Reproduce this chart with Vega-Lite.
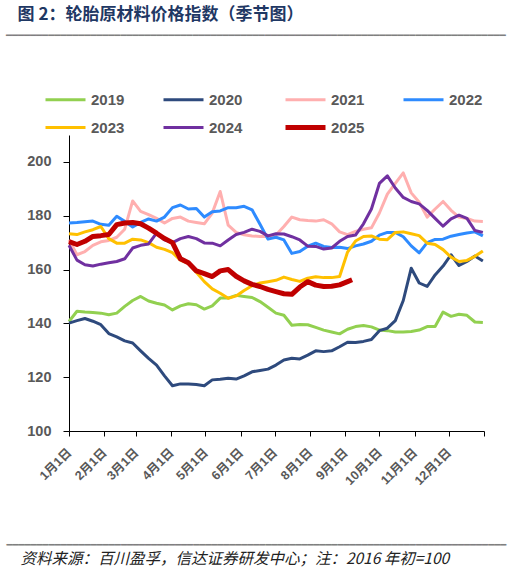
{
  "$schema": "https://vega.github.io/schema/vega-lite/v6.json",
  "width": 415,
  "height": 296,
  "autosize": "none",
  "padding": {"left": 69, "top": 135, "right": 44, "bottom": 142},
  "background": "white",
  "config": {"view": {"stroke": null}, "font": "Liberation Sans"},
  "title": {
    "text": "\u200b\u00a0\u00a0\u00a0图 2：轮胎原材料价格指数（季节图）",
    "subtitle": "▔▔▔▔▔▔▔▔▔▔▔▔▔▔▔▔▔▔▔▔▔▔▔▔▔▔▔▔▔▔▔▔▔▔▔▔▔▔▔▔▔▔▔▔▔▔▔▔▔▔▔▔▔▔▔▔▔▔▔▔▔▔▔▔▔▔▔▔▔▔▔▔▔▔▔▔▔▔▔▔▔▔▔",
    "anchor": "start",
    "frame": "group",
    "dx": -63,
    "offset": 45.5,
    "font": "Noto Sans CJK SC",
    "fontSize": 17,
    "fontWeight": "bold",
    "color": "#1f3864",
    "subtitleFont": "DejaVu Sans Mono",
    "subtitleFontSize": 10,
    "subtitleColor": "#7f7f7f",
    "subtitlePadding": 12
  },
  "data": {"values": [
    {"d":"2025/01/01","s":"2019","v":140.7},{"d":"2025/01/08","s":"2019","v":144.5},{"d":"2025/01/15","s":"2019","v":144.2},{"d":"2025/01/22","s":"2019","v":144},{"d":"2025/01/29","s":"2019","v":143.8},{"d":"2025/02/05","s":"2019","v":143.2},{"d":"2025/02/12","s":"2019","v":143.8},{"d":"2025/02/19","s":"2019","v":146.3},{"d":"2025/02/26","s":"2019","v":148.5},{"d":"2025/03/05","s":"2019","v":150},{"d":"2025/03/12","s":"2019","v":148.3},{"d":"2025/03/19","s":"2019","v":147.5},{"d":"2025/03/26","s":"2019","v":146.8},{"d":"2025/04/02","s":"2019","v":145},{"d":"2025/04/09","s":"2019","v":146.5},{"d":"2025/04/16","s":"2019","v":147.3},{"d":"2025/04/23","s":"2019","v":146.9},{"d":"2025/04/30","s":"2019","v":145.3},{"d":"2025/05/07","s":"2019","v":146.5},{"d":"2025/05/14","s":"2019","v":149.4},{"d":"2025/05/21","s":"2019","v":149.4},{"d":"2025/05/28","s":"2019","v":150.4},{"d":"2025/06/04","s":"2019","v":150},{"d":"2025/06/11","s":"2019","v":149.6},{"d":"2025/06/18","s":"2019","v":148.1},{"d":"2025/06/25","s":"2019","v":146},{"d":"2025/07/02","s":"2019","v":143.8},{"d":"2025/07/09","s":"2019","v":143},{"d":"2025/07/16","s":"2019","v":139.3},{"d":"2025/07/23","s":"2019","v":139.6},{"d":"2025/07/30","s":"2019","v":139.5},{"d":"2025/08/06","s":"2019","v":138.5},{"d":"2025/08/13","s":"2019","v":137.5},{"d":"2025/08/20","s":"2019","v":136.8},{"d":"2025/08/27","s":"2019","v":136.1},{"d":"2025/09/03","s":"2019","v":137.8},{"d":"2025/09/10","s":"2019","v":138.8},{"d":"2025/09/17","s":"2019","v":139.2},{"d":"2025/09/24","s":"2019","v":138.7},{"d":"2025/10/01","s":"2019","v":137.5},{"d":"2025/10/08","s":"2019","v":137.3},{"d":"2025/10/15","s":"2019","v":136.8},{"d":"2025/10/22","s":"2019","v":136.8},{"d":"2025/10/29","s":"2019","v":137},{"d":"2025/11/05","s":"2019","v":137.5},{"d":"2025/11/12","s":"2019","v":138.8},{"d":"2025/11/19","s":"2019","v":138.8},{"d":"2025/11/26","s":"2019","v":144.2},{"d":"2025/12/03","s":"2019","v":142.6},{"d":"2025/12/10","s":"2019","v":143.4},{"d":"2025/12/17","s":"2019","v":143},{"d":"2025/12/24","s":"2019","v":140.5},{"d":"2025/12/31","s":"2019","v":140.3},
    {"d":"2025/01/01","s":"2020","v":140.1},{"d":"2025/01/08","s":"2020","v":141},{"d":"2025/01/15","s":"2020","v":141.8},{"d":"2025/01/22","s":"2020","v":140.8},{"d":"2025/01/29","s":"2020","v":139.5},{"d":"2025/02/05","s":"2020","v":136.2},{"d":"2025/02/12","s":"2020","v":135},{"d":"2025/02/19","s":"2020","v":133.5},{"d":"2025/02/26","s":"2020","v":132.7},{"d":"2025/03/05","s":"2020","v":129.8},{"d":"2025/03/12","s":"2020","v":127},{"d":"2025/03/19","s":"2020","v":124.5},{"d":"2025/03/26","s":"2020","v":120.5},{"d":"2025/04/02","s":"2020","v":116.8},{"d":"2025/04/09","s":"2020","v":117.5},{"d":"2025/04/16","s":"2020","v":117.5},{"d":"2025/04/23","s":"2020","v":117.3},{"d":"2025/04/30","s":"2020","v":116.8},{"d":"2025/05/07","s":"2020","v":119},{"d":"2025/05/14","s":"2020","v":119.2},{"d":"2025/05/21","s":"2020","v":119.6},{"d":"2025/05/28","s":"2020","v":119.3},{"d":"2025/06/04","s":"2020","v":120.5},{"d":"2025/06/11","s":"2020","v":122},{"d":"2025/06/18","s":"2020","v":122.5},{"d":"2025/06/25","s":"2020","v":123},{"d":"2025/07/02","s":"2020","v":124.5},{"d":"2025/07/09","s":"2020","v":126.4},{"d":"2025/07/16","s":"2020","v":127},{"d":"2025/07/23","s":"2020","v":126.8},{"d":"2025/07/30","s":"2020","v":128.2},{"d":"2025/08/06","s":"2020","v":129.8},{"d":"2025/08/13","s":"2020","v":129.5},{"d":"2025/08/20","s":"2020","v":129.8},{"d":"2025/08/27","s":"2020","v":131.3},{"d":"2025/09/03","s":"2020","v":133},{"d":"2025/09/10","s":"2020","v":132.9},{"d":"2025/09/17","s":"2020","v":133.3},{"d":"2025/09/24","s":"2020","v":134},{"d":"2025/10/01","s":"2020","v":137.3},{"d":"2025/10/08","s":"2020","v":138.2},{"d":"2025/10/15","s":"2020","v":141},{"d":"2025/10/22","s":"2020","v":148.5},{"d":"2025/10/29","s":"2020","v":160.5},{"d":"2025/11/05","s":"2020","v":155},{"d":"2025/11/12","s":"2020","v":153.7},{"d":"2025/11/19","s":"2020","v":158},{"d":"2025/11/26","s":"2020","v":161.3},{"d":"2025/12/03","s":"2020","v":165.5},{"d":"2025/12/10","s":"2020","v":161.5},{"d":"2025/12/17","s":"2020","v":163},{"d":"2025/12/24","s":"2020","v":165},{"d":"2025/12/31","s":"2020","v":163.2},
    {"d":"2025/01/01","s":"2021","v":171},{"d":"2025/01/08","s":"2021","v":165.5},{"d":"2025/01/15","s":"2021","v":166.7},{"d":"2025/01/22","s":"2021","v":169},{"d":"2025/01/29","s":"2021","v":170.3},{"d":"2025/02/05","s":"2021","v":170.8},{"d":"2025/02/12","s":"2021","v":172},{"d":"2025/02/19","s":"2021","v":175},{"d":"2025/02/26","s":"2021","v":185.5},{"d":"2025/03/05","s":"2021","v":181.6},{"d":"2025/03/12","s":"2021","v":180.4},{"d":"2025/03/19","s":"2021","v":179},{"d":"2025/03/26","s":"2021","v":177.3},{"d":"2025/04/02","s":"2021","v":179},{"d":"2025/04/09","s":"2021","v":179.5},{"d":"2025/04/16","s":"2021","v":178},{"d":"2025/04/23","s":"2021","v":177.5},{"d":"2025/04/30","s":"2021","v":177},{"d":"2025/05/07","s":"2021","v":181},{"d":"2025/05/14","s":"2021","v":189},{"d":"2025/05/21","s":"2021","v":176.5},{"d":"2025/05/28","s":"2021","v":173.8},{"d":"2025/06/04","s":"2021","v":172.9},{"d":"2025/06/11","s":"2021","v":172.5},{"d":"2025/06/18","s":"2021","v":172.3},{"d":"2025/06/25","s":"2021","v":172.3},{"d":"2025/07/02","s":"2021","v":172.8},{"d":"2025/07/09","s":"2021","v":176},{"d":"2025/07/16","s":"2021","v":179.5},{"d":"2025/07/23","s":"2021","v":178.5},{"d":"2025/07/30","s":"2021","v":178.2},{"d":"2025/08/06","s":"2021","v":178},{"d":"2025/08/13","s":"2021","v":178.5},{"d":"2025/08/20","s":"2021","v":177},{"d":"2025/08/27","s":"2021","v":174},{"d":"2025/09/03","s":"2021","v":173},{"d":"2025/09/10","s":"2021","v":174.2},{"d":"2025/09/17","s":"2021","v":175},{"d":"2025/09/24","s":"2021","v":175.5},{"d":"2025/10/01","s":"2021","v":181},{"d":"2025/10/08","s":"2021","v":188},{"d":"2025/10/15","s":"2021","v":192},{"d":"2025/10/22","s":"2021","v":195.9},{"d":"2025/10/29","s":"2021","v":188.5},{"d":"2025/11/05","s":"2021","v":185},{"d":"2025/11/12","s":"2021","v":179.5},{"d":"2025/11/19","s":"2021","v":182.5},{"d":"2025/11/26","s":"2021","v":185.3},{"d":"2025/12/03","s":"2021","v":182},{"d":"2025/12/10","s":"2021","v":179.5},{"d":"2025/12/17","s":"2021","v":179},{"d":"2025/12/24","s":"2021","v":178},{"d":"2025/12/31","s":"2021","v":177.9},
    {"d":"2025/01/01","s":"2022","v":177.3},{"d":"2025/01/08","s":"2022","v":177.5},{"d":"2025/01/15","s":"2022","v":177.8},{"d":"2025/01/22","s":"2022","v":178},{"d":"2025/01/29","s":"2022","v":176.8},{"d":"2025/02/05","s":"2022","v":176.5},{"d":"2025/02/12","s":"2022","v":179.8},{"d":"2025/02/19","s":"2022","v":177.9},{"d":"2025/02/26","s":"2022","v":175.8},{"d":"2025/03/05","s":"2022","v":177.5},{"d":"2025/03/12","s":"2022","v":178.8},{"d":"2025/03/19","s":"2022","v":178},{"d":"2025/03/26","s":"2022","v":179.5},{"d":"2025/04/02","s":"2022","v":183},{"d":"2025/04/09","s":"2022","v":184},{"d":"2025/04/16","s":"2022","v":182.5},{"d":"2025/04/23","s":"2022","v":182.7},{"d":"2025/04/30","s":"2022","v":179.5},{"d":"2025/05/07","s":"2022","v":181.5},{"d":"2025/05/14","s":"2022","v":181.8},{"d":"2025/05/21","s":"2022","v":183},{"d":"2025/05/28","s":"2022","v":183},{"d":"2025/06/04","s":"2022","v":183.5},{"d":"2025/06/11","s":"2022","v":182.2},{"d":"2025/06/18","s":"2022","v":176.8},{"d":"2025/06/25","s":"2022","v":171.3},{"d":"2025/07/02","s":"2022","v":172},{"d":"2025/07/09","s":"2022","v":171},{"d":"2025/07/16","s":"2022","v":166},{"d":"2025/07/23","s":"2022","v":166.7},{"d":"2025/07/30","s":"2022","v":168.7},{"d":"2025/08/06","s":"2022","v":169.8},{"d":"2025/08/13","s":"2022","v":168.6},{"d":"2025/08/20","s":"2022","v":168.2},{"d":"2025/08/27","s":"2022","v":168.3},{"d":"2025/09/03","s":"2022","v":167.8},{"d":"2025/09/10","s":"2022","v":168.8},{"d":"2025/09/17","s":"2022","v":169.5},{"d":"2025/09/24","s":"2022","v":170.5},{"d":"2025/10/01","s":"2022","v":172.8},{"d":"2025/10/08","s":"2022","v":173.8},{"d":"2025/10/15","s":"2022","v":173.8},{"d":"2025/10/22","s":"2022","v":172.2},{"d":"2025/10/29","s":"2022","v":168.8},{"d":"2025/11/05","s":"2022","v":166.2},{"d":"2025/11/12","s":"2022","v":170},{"d":"2025/11/19","s":"2022","v":171.2},{"d":"2025/11/26","s":"2022","v":171.3},{"d":"2025/12/03","s":"2022","v":172.4},{"d":"2025/12/10","s":"2022","v":173},{"d":"2025/12/17","s":"2022","v":173.6},{"d":"2025/12/24","s":"2022","v":174},{"d":"2025/12/31","s":"2022","v":172.5},
    {"d":"2025/01/01","s":"2023","v":173.3},{"d":"2025/01/08","s":"2023","v":173},{"d":"2025/01/15","s":"2023","v":174},{"d":"2025/01/22","s":"2023","v":174.8},{"d":"2025/01/29","s":"2023","v":176},{"d":"2025/02/05","s":"2023","v":171.5},{"d":"2025/02/12","s":"2023","v":169.8},{"d":"2025/02/19","s":"2023","v":169.8},{"d":"2025/02/26","s":"2023","v":171.3},{"d":"2025/03/05","s":"2023","v":171},{"d":"2025/03/12","s":"2023","v":170},{"d":"2025/03/19","s":"2023","v":168.3},{"d":"2025/03/26","s":"2023","v":167.5},{"d":"2025/04/02","s":"2023","v":166.3},{"d":"2025/04/09","s":"2023","v":163.5},{"d":"2025/04/16","s":"2023","v":162.3},{"d":"2025/04/23","s":"2023","v":159},{"d":"2025/04/30","s":"2023","v":155.5},{"d":"2025/05/07","s":"2023","v":152.8},{"d":"2025/05/14","s":"2023","v":151.2},{"d":"2025/05/21","s":"2023","v":149.3},{"d":"2025/05/28","s":"2023","v":150.2},{"d":"2025/06/04","s":"2023","v":152.2},{"d":"2025/06/11","s":"2023","v":154},{"d":"2025/06/18","s":"2023","v":155},{"d":"2025/06/25","s":"2023","v":155.5},{"d":"2025/07/02","s":"2023","v":156},{"d":"2025/07/09","s":"2023","v":157.2},{"d":"2025/07/16","s":"2023","v":156.3},{"d":"2025/07/23","s":"2023","v":155.6},{"d":"2025/07/30","s":"2023","v":156.8},{"d":"2025/08/06","s":"2023","v":157.3},{"d":"2025/08/13","s":"2023","v":157},{"d":"2025/08/20","s":"2023","v":157},{"d":"2025/08/27","s":"2023","v":157.4},{"d":"2025/09/03","s":"2023","v":166.5},{"d":"2025/09/10","s":"2023","v":170.6},{"d":"2025/09/17","s":"2023","v":172.3},{"d":"2025/09/24","s":"2023","v":172.5},{"d":"2025/10/01","s":"2023","v":171.3},{"d":"2025/10/08","s":"2023","v":171.1},{"d":"2025/10/15","s":"2023","v":173.8},{"d":"2025/10/22","s":"2023","v":174},{"d":"2025/10/29","s":"2023","v":173.3},{"d":"2025/11/05","s":"2023","v":172.6},{"d":"2025/11/12","s":"2023","v":169.8},{"d":"2025/11/19","s":"2023","v":169.3},{"d":"2025/11/26","s":"2023","v":167.4},{"d":"2025/12/03","s":"2023","v":164.6},{"d":"2025/12/10","s":"2023","v":163},{"d":"2025/12/17","s":"2023","v":163.4},{"d":"2025/12/24","s":"2023","v":164.9},{"d":"2025/12/31","s":"2023","v":166.9},
    {"d":"2025/01/01","s":"2024","v":169},{"d":"2025/01/08","s":"2024","v":163.5},{"d":"2025/01/15","s":"2024","v":161.8},{"d":"2025/01/22","s":"2024","v":161.3},{"d":"2025/01/29","s":"2024","v":162},{"d":"2025/02/05","s":"2024","v":162.5},{"d":"2025/02/12","s":"2024","v":163},{"d":"2025/02/19","s":"2024","v":164},{"d":"2025/02/26","s":"2024","v":168},{"d":"2025/03/05","s":"2024","v":169},{"d":"2025/03/12","s":"2024","v":169.5},{"d":"2025/03/19","s":"2024","v":173.5},{"d":"2025/03/26","s":"2024","v":171},{"d":"2025/04/02","s":"2024","v":170},{"d":"2025/04/09","s":"2024","v":171.5},{"d":"2025/04/16","s":"2024","v":172.3},{"d":"2025/04/23","s":"2024","v":171.5},{"d":"2025/04/30","s":"2024","v":169.9},{"d":"2025/05/07","s":"2024","v":169.8},{"d":"2025/05/14","s":"2024","v":168.8},{"d":"2025/05/21","s":"2024","v":171},{"d":"2025/05/28","s":"2024","v":173},{"d":"2025/06/04","s":"2024","v":173.8},{"d":"2025/06/11","s":"2024","v":175},{"d":"2025/06/18","s":"2024","v":174.2},{"d":"2025/06/25","s":"2024","v":172.5},{"d":"2025/07/02","s":"2024","v":173.3},{"d":"2025/07/09","s":"2024","v":173.2},{"d":"2025/07/16","s":"2024","v":172.2},{"d":"2025/07/23","s":"2024","v":171},{"d":"2025/07/30","s":"2024","v":168.7},{"d":"2025/08/06","s":"2024","v":168.6},{"d":"2025/08/13","s":"2024","v":167.6},{"d":"2025/08/20","s":"2024","v":168},{"d":"2025/08/27","s":"2024","v":170.5},{"d":"2025/09/03","s":"2024","v":172.3},{"d":"2025/09/10","s":"2024","v":172.8},{"d":"2025/09/17","s":"2024","v":177},{"d":"2025/09/24","s":"2024","v":182.5},{"d":"2025/10/01","s":"2024","v":192},{"d":"2025/10/08","s":"2024","v":194.8},{"d":"2025/10/15","s":"2024","v":190.3},{"d":"2025/10/22","s":"2024","v":186.8},{"d":"2025/10/29","s":"2024","v":185.3},{"d":"2025/11/05","s":"2024","v":184.4},{"d":"2025/11/12","s":"2024","v":182},{"d":"2025/11/19","s":"2024","v":179},{"d":"2025/11/26","s":"2024","v":176.1},{"d":"2025/12/03","s":"2024","v":178.8},{"d":"2025/12/10","s":"2024","v":180.2},{"d":"2025/12/17","s":"2024","v":179},{"d":"2025/12/24","s":"2024","v":174.5},{"d":"2025/12/31","s":"2024","v":173.8},
    {"d":"2025/01/01","s":"2025","v":170.4},{"d":"2025/01/08","s":"2025","v":169.3},{"d":"2025/01/15","s":"2025","v":170.5},{"d":"2025/01/22","s":"2025","v":172.3},{"d":"2025/01/29","s":"2025","v":172.6},{"d":"2025/02/05","s":"2025","v":173},{"d":"2025/02/12","s":"2025","v":176.7},{"d":"2025/02/19","s":"2025","v":177.3},{"d":"2025/02/26","s":"2025","v":177.5},{"d":"2025/03/05","s":"2025","v":177},{"d":"2025/03/12","s":"2025","v":175.4},{"d":"2025/03/19","s":"2025","v":173.5},{"d":"2025/03/26","s":"2025","v":171.5},{"d":"2025/04/02","s":"2025","v":170},{"d":"2025/04/09","s":"2025","v":164},{"d":"2025/04/16","s":"2025","v":162.5},{"d":"2025/04/23","s":"2025","v":159.5},{"d":"2025/04/30","s":"2025","v":158.5},{"d":"2025/05/07","s":"2025","v":157.4},{"d":"2025/05/14","s":"2025","v":159.5},{"d":"2025/05/21","s":"2025","v":160},{"d":"2025/05/28","s":"2025","v":157.5},{"d":"2025/06/04","s":"2025","v":155.8},{"d":"2025/06/11","s":"2025","v":154.5},{"d":"2025/06/18","s":"2025","v":153.7},{"d":"2025/06/25","s":"2025","v":152.6},{"d":"2025/07/02","s":"2025","v":151.8},{"d":"2025/07/09","s":"2025","v":151},{"d":"2025/07/16","s":"2025","v":150.8},{"d":"2025/07/23","s":"2025","v":153.5},{"d":"2025/07/30","s":"2025","v":155.5},{"d":"2025/08/06","s":"2025","v":154.2},{"d":"2025/08/13","s":"2025","v":153.7},{"d":"2025/08/20","s":"2025","v":153.8},{"d":"2025/08/27","s":"2025","v":154.3},{"d":"2025/09/03","s":"2025","v":155.5},{"d":"2025/09/07","s":"2025","v":156.2}
  ]},
  "mark": {"type": "line", "strokeJoin": "round"},
  "encoding": {
    "x": {
      "field": "d",
      "type": "temporal",
      "scale": {"domain": [{"year": 2025, "month": 1, "date": 1}, {"year": 2026, "month": 1, "date": 1}]},
      "axis": {
        "values": [
          {"year": 2025, "month": 1, "date": 1}, {"year": 2025, "month": 2, "date": 1}, {"year": 2025, "month": 3, "date": 1},
          {"year": 2025, "month": 4, "date": 1}, {"year": 2025, "month": 5, "date": 1}, {"year": 2025, "month": 6, "date": 1},
          {"year": 2025, "month": 7, "date": 1}, {"year": 2025, "month": 8, "date": 1}, {"year": 2025, "month": 9, "date": 1},
          {"year": 2025, "month": 10, "date": 1}, {"year": 2025, "month": 11, "date": 1}, {"year": 2025, "month": 12, "date": 1},
          {"year": 2026, "month": 1, "date": 1}
        ],
        "labelExpr": "year(datum.value) > 2025 ? '' : (month(datum.value) + 1) + '月1日'",
        "labelAngle": -45,
        "labelAlign": "right",
        "labelBaseline": "middle",
        "labelFont": "Liberation Sans, Noto Sans CJK SC",
        "labelFontSize": 12.5,
        "labelFontWeight": "bold",
        "labelColor": "#595959",
        "labelPadding": 14,
        "labelOverlap": false,
        "labelFlush": false,
        "labelBound": false,
        "tickSize": 5,
        "tickColor": "#000000",
        "domainColor": "#000000",
        "grid": false,
        "title": "\u200b\u00a0\u00a0\u00a0\u00a0资料来源：百川盈孚，信达证券研发中心；注：2016 年初=100",
        "titleX": -63,
        "titleY": 132,
        "titleAlign": "left",
        "titleAnchor": "start",
        "titleBaseline": "alphabetic",
        "titleFont": "Noto Sans CJK SC",
        "titleFontStyle": "italic",
        "titleFontWeight": "normal",
        "titleFontSize": 15.5,
        "titleColor": "#222222"
      }
    },
    "y": {
      "field": "v",
      "type": "quantitative",
      "scale": {"domain": [100, 210]},
      "axis": {
        "values": [100, 120, 140, 160, 180, 200],
        "labelFont": "Liberation Sans",
        "labelFontSize": 14.5,
        "labelFontWeight": "bold",
        "labelColor": "#595959",
        "labelPadding": 12,
        "tickSize": 6,
        "tickColor": "#000000",
        "domainColor": "#000000",
        "grid": false,
        "title": "▁▁▁▁▁▁▁▁▁▁▁▁▁▁▁▁▁▁▁▁▁▁▁▁▁▁▁▁▁▁▁▁▁▁▁▁▁▁▁▁▁▁▁▁▁▁▁▁▁▁▁▁▁▁▁▁▁▁▁▁▁▁▁▁▁▁▁▁▁▁▁▁▁▁▁▁▁▁▁▁▁▁▁",
        "titleAngle": 0,
        "titleX": -63,
        "titleY": 407.5,
        "titleAlign": "left",
        "titleAnchor": "start",
        "titleBaseline": "alphabetic",
        "titleFont": "DejaVu Sans Mono",
        "titleFontWeight": "normal",
        "titleFontSize": 10,
        "titleColor": "#7f7f7f"
      }
    },
    "color": {
      "field": "s",
      "type": "nominal",
      "scale": {
        "domain": ["2019", "2020", "2021", "2022", "2023", "2024", "2025"],
        "range": ["#92d050", "#2e4a7d", "#ffafaf", "#2e8bff", "#ffc000", "#7030a0", "#c00000"]
      },
      "legend": {
        "orient": "none",
        "legendX": -11,
        "legendY": -43,
        "direction": "horizontal",
        "columns": 4,
        "title": null,
        "symbolType": "stroke",
        "symbolSize": 1600,
        "symbolStrokeWidth": 3,
        "labelFont": "Liberation Sans",
        "labelFontSize": 15,
        "labelFontWeight": "bold",
        "labelColor": "#595959",
        "labelOffset": 18,
        "columnPadding": 32,
        "rowPadding": 9,
        "padding": 0,
        "encode": {"symbols": {"update": {"strokeWidth": {"signal": "datum.value === '2025' ? 5 : 3"}}}}
      }
    },
    "strokeWidth": {"condition": {"test": "datum.s === '2025'", "value": 5}, "value": 3}
  }
}
